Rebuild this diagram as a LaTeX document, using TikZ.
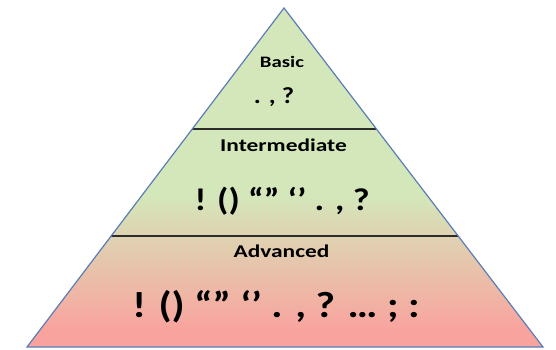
\documentclass[tikz,border=0pt]{standalone}
\usepackage{fontspec}
\newfontfamily\lbl[FakeStretch=1.3]{Carlito}
\newfontfamily\symf[FakeStretch=1.15]{Carlito}
\definecolor{pgreen}{RGB}{211,231,186}
\definecolor{ppink}{RGB}{249,163,158}
\definecolor{pedge}{RGB}{90,125,182}
\definecolor{pline}{RGB}{45,45,45}
\tikzset{
  lvl/.style={anchor=base, inner sep=0pt, text=black, font=\lbl\bfseries\fontsize{18}{20}\selectfont},
  sym/.style={anchor=base, inner sep=0pt, text=black},
  divider/.style={draw=pline, line width=1.1pt},
}
\begin{document}
\begin{tikzpicture}[x=1pt,y=-1pt]
\useasboundingbox (0,0) rectangle (556,349);
\coordinate (apex) at (284,8);
\coordinate (bl) at (27,347);
\coordinate (br) at (543,347);
\coordinate (l1a) at (192,129);
\coordinate (l1b) at (376,129);
\coordinate (l2a) at (111,236);
\coordinate (l2b) at (458,236);
\begin{scope}
  \clip (apex) -- (br) -- (bl) -- cycle;
  \fill[pgreen] (0,0) rectangle (556,196);
  \shade[top color=pgreen, bottom color=ppink] (0,195) rectangle (556,331);
  \fill[ppink] (0,330) rectangle (556,349);
\end{scope}
\draw[divider] (l1a) -- (l1b);
\draw[divider] (l2a) -- (l2b);
\draw[pedge, line width=1.2pt, line join=miter] (apex) -- (br) -- (bl) -- cycle;
\node[lvl, font=\lbl\bfseries\fontsize{16}{18}\selectfont] (basic) at (282,67) {Basic};
\node[sym, font=\symf\bfseries\fontsize{23}{26}\selectfont] (basicsym) at (274,103) {. , ?};
\node[lvl] (inter) at (283.5,151) {Intermediate};
\node[sym, font=\symf\bfseries\fontsize{31.5}{34}\selectfont] (intersym) at (282,210) {! () “” ‘’ . , ?};
\node[lvl] (adv) at (281.5,257) {Advanced};
\node[sym, font=\symf\bfseries\fontsize{36.5}{40}\selectfont] (advsym) at (276,317) {! () “” ‘’ . , ? … ; :};
\end{tikzpicture}
\end{document}
